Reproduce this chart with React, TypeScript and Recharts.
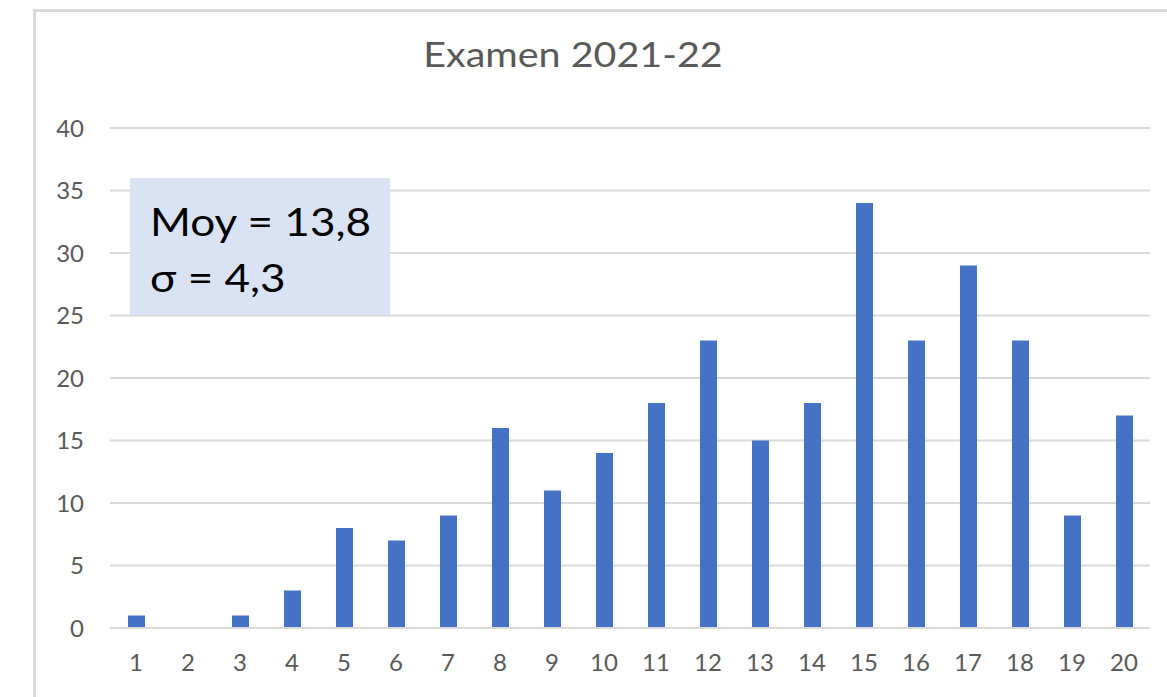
import { BarChart, Bar, XAxis, YAxis, CartesianGrid } from 'recharts'

const GRADES = ['1', '2', '3', '4', '5', '6', '7', '8', '9', '10', '11', '12', '13', '14', '15', '16', '17', '18', '19', '20']
const COUNTS = [1, 0, 1, 3, 8, 7, 9, 16, 11, 14, 18, 23, 15, 18, 34, 23, 29, 23, 9, 17]
const Y_TICKS = [0, 5, 10, 15, 20, 25, 30, 35, 40]
const STATS = ['Moy = 13,8', 'σ = 4,3']

const FONT = 'Lato, "Open Sans", sans-serif'
const GRID = '#d9d9d9'
const TEXT = '#595959'

function XTick({ x, y, payload }: any) {
  return (
    <text x={x} y={y} dy="0.71em" textAnchor="middle" fontSize={24} fill={TEXT} fontFamily={FONT}>
      {payload.value}
    </text>
  )
}

function YTick({ x, y, payload }: any) {
  return (
    <text x={x} y={y} dy="0.36em" textAnchor="end" fontSize={24} fill={TEXT} fontFamily={FONT}>
      {payload.value}
    </text>
  )
}

export default function App() {
  const data = GRADES.map((g, i) => ({ grade: g, count: COUNTS[i] }))

  return (
    <div style={{ position: 'absolute', left: 0, top: 0, width: 1167, height: 697, overflow: 'hidden', background: '#fff', fontFamily: FONT }}>
      <div
        style={{
          position: 'absolute',
          left: 33,
          top: 9,
          width: 1200,
          height: 760,
          border: `3px solid ${GRID}`,
          boxSizing: 'border-box',
        }}
      />
      <div
        style={{
          position: 'absolute',
          left: 0,
          width: 1146,
          top: 33,
          textAlign: 'center',
          fontSize: 34,
          color: TEXT,
          transform: 'scaleX(1.16)',
          transformOrigin: '573px 0',
        }}
      >
        Examen 2021-22
      </div>
      <div style={{ position: 'absolute', left: 0, top: 0 }}>
        <BarChart width={1167} height={697} data={data} margin={{ top: 128, right: 17, left: 50, bottom: 29 }}>
          <CartesianGrid vertical={false} stroke={GRID} strokeWidth={2} />
          <XAxis
            dataKey="grade"
            height={40}
            axisLine={{ stroke: GRID, strokeWidth: 2 }}
            tickLine={false}
            tick={<XTick />}
            tickMargin={20}
          />
          <YAxis
            width={60}
            domain={[0, 40]}
            ticks={Y_TICKS}
            axisLine={false}
            tickLine={false}
            tick={<YTick />}
            tickMargin={20}
          />
          <Bar dataKey="count" fill="#4472c4" barSize={17} isAnimationActive={false} />
        </BarChart>
      </div>
      <div
        style={{
          position: 'absolute',
          left: 130,
          top: 178,
          width: 260,
          height: 137,
          background: '#dae3f3',
          boxSizing: 'border-box',
          padding: '15px 0 0 20px',
          fontSize: 38,
          lineHeight: '56px',
          color: '#000',
        }}
      >
        {STATS.map((s) => (
          <div key={s} style={{ transform: 'scaleX(1.16)', transformOrigin: '0 0' }}>
            {s}
          </div>
        ))}
      </div>
    </div>
  )
}
